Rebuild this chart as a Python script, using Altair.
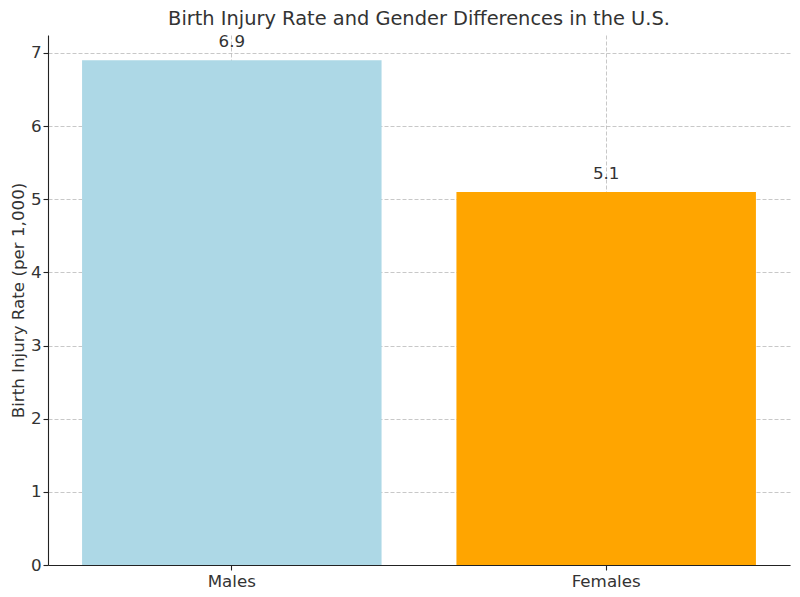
import altair as alt
import pandas as pd

categories = ["Males", "Females"]
rates = [6.9, 5.1]
colors = ["#ADD8E6", "#FFA500"]
labels = ["6.9", "5.1"]

df = pd.DataFrame({"Gender": categories, "Rate": rates, "Label": labels, "Color": colors})

FONT = "DejaVu Sans"
TXT = "#333333"
FS = 16.7

x_enc = alt.X("Gender:N", sort=categories,
              scale=alt.Scale(paddingInner=0.2, paddingOuter=0.091),
              axis=alt.Axis(title=None, labelAngle=0, bandPosition=0.5, grid=True,
                            labelFontSize=FS, labelPadding=3))
y_scale = alt.Scale(domain=[0, 7.245], nice=False, zero=True)

bars = alt.Chart(df).mark_bar().encode(
    x=x_enc,
    y=alt.Y("Rate:Q", scale=y_scale,
            axis=alt.Axis(title="Birth Injury Rate (per 1,000)", values=[0, 1, 2, 3, 4, 5, 6, 7],
                          format="d", grid=True, labelFontSize=FS, titleFontSize=FS, titlePadding=3,
                          titleFontWeight="normal", labelPadding=2)),
    color=alt.Color("Color:N", scale=None),
)

text = alt.Chart(df).mark_text(baseline="bottom", dy=-9, fontSize=FS, font=FONT, color=TXT).encode(
    x=alt.X("Gender:N", sort=categories),
    y=alt.Y("Rate:Q", scale=y_scale),
    text="Label:N",
)

chart = alt.layer(bars, text).properties(
    width=742, height=530,
    title=alt.TitleParams("Birth Injury Rate and Gender Differences in the U.S.",
                          fontSize=19.4, font=FONT, color=TXT, fontWeight="normal", offset=5),
    autosize=alt.AutoSizeParams(type="none"),
    padding={"left": 40, "top": 27, "right": 2, "bottom": 24},
).configure_axis(
    labelFont=FONT, titleFont=FONT, labelColor=TXT, titleColor=TXT,
    domainColor="#222222", domainWidth=1.1, tickColor="#222222", tickSize=5, tickWidth=1.1,
    gridColor="#b0b0b0", gridOpacity=0.7, gridDash=[4, 2], gridWidth=1, zindex=1,
).configure_view(stroke=None)

chart.save("out.html", embed_options={"renderer": "svg", "actions": False})
